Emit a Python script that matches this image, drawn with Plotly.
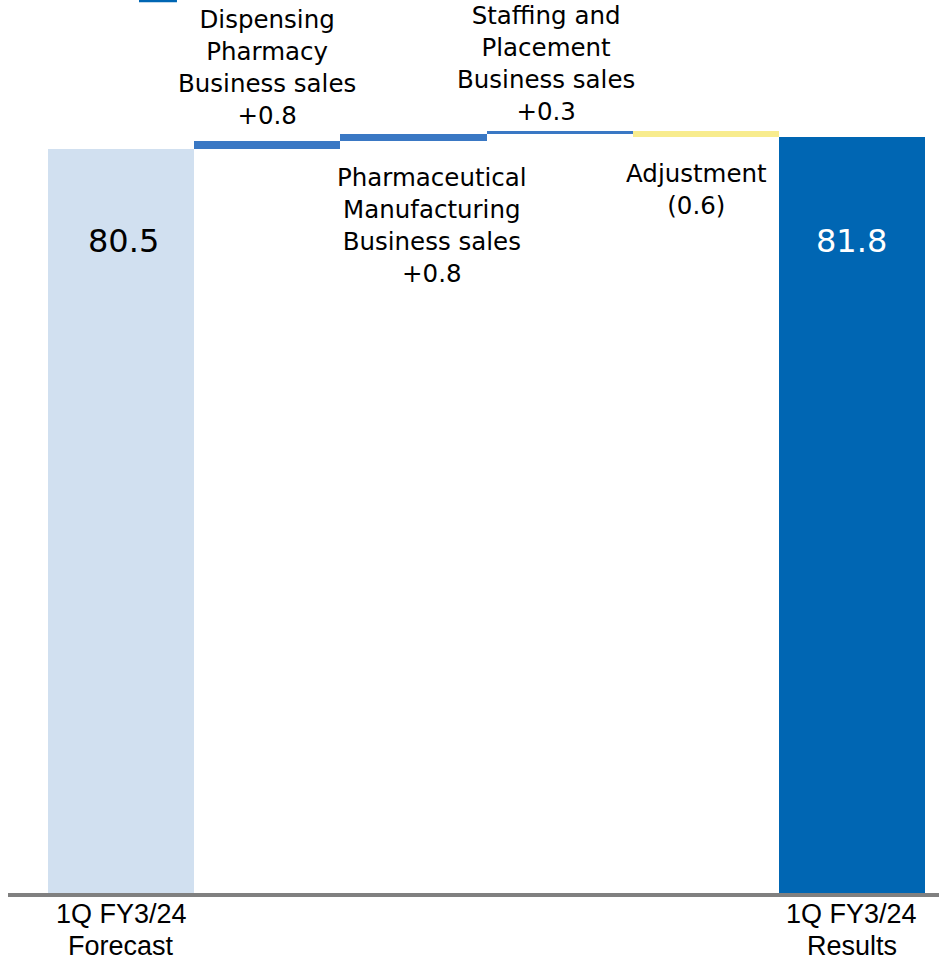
import plotly.graph_objects as go

# Data (100 million yen)
categories = ["1Q FY3/24<br>Forecast", "Dispensing", "Pharmaceutical", "Staffing", "Adjustment",
              "1Q FY3/24<br>Results"]
forecast = 80.5
changes = [0.8, 0.8, 0.3, -0.6]
results = 81.8
change_labels = [
    "Dispensing<br>Pharmacy<br>Business sales<br>+0.8",
    "Pharmaceutical<br>Manufacturing<br>Business sales<br>+0.8",
    "Staffing and<br>Placement<br>Business sales<br>+0.3",
    "Adjustment<br>(0.6)",
]

COLOURS = {
    'forecast': '#D1E0F0',
    'up': '#3A78C4',
    'down': '#F8EC8E',
    'results': '#0066B3',
    'axis': '#808080',
    'text': '#000000',
}

# floating bars for the waterfall
bases = [0]
heights = [forecast]
running = forecast
for c in changes:
    new = running + c
    bases.append(min(running, new))
    heights.append(abs(c))
    running = new
bases.append(0)
heights.append(results)

colors = [COLOURS['forecast']] + [COLOURS['up'] if c > 0 else COLOURS['down'] for c in changes] + [COLOURS['results']]
xs = list(range(len(categories)))

fig = go.Figure()
fig.add_trace(go.Bar(
    x=xs, y=heights, base=bases,
    marker=dict(color=colors, line=dict(width=0)),
    hoverinfo='skip',
    showlegend=False,
))

FONT = "DejaVu Sans"

# labels on the change bars
running = forecast
for i, (c, lab) in enumerate(zip(changes, change_labels)):
    top = max(running, running + c)
    bottom = min(running, running + c)
    above = i in (0, 2)
    fig.add_annotation(
        x=i + 1, y=top if above else bottom,
        xref='x', yref='y',
        text=lab, showarrow=False,
        xshift=[0, 19, -14, -9][i],
        yshift=[9, -20, 3, -20][i],
        yanchor='bottom' if above else 'top',
        font=dict(family=FONT, size=24.5, color=COLOURS['text']),
    )
    running += c

# values inside the end bars
fig.add_annotation(x=0, y=70.5, text=f"{forecast:.1f}", showarrow=False, xshift=2,
                   font=dict(family=FONT, size=32, color=COLOURS['text']))
fig.add_annotation(x=5, y=70.5, text=f"{results:.1f}", showarrow=False,
                   font=dict(family=FONT, size=32, color='#FFFFFF'))

# category labels under the axis (one line each, tighter spacing than ticks)
for xi in (0, len(categories) - 1):
    for k, line in enumerate(categories[xi].split("<br>")):
        fig.add_annotation(
            x=xi, y=0, xref='x', yref='paper',
            text=line, showarrow=False,
            yanchor='middle', yshift=-21 - 32 * k,
            font=dict(family="Liberation Sans", size=27, color=COLOURS['text']),
        )

fig.update_layout(
    width=939, height=962,
    margin=dict(l=8, r=0, t=0, b=69),
    paper_bgcolor='white', plot_bgcolor='white',
    bargap=0,
    shapes=[dict(type='rect', xref='paper', yref='paper',
                 x0=0.1407, x1=0.1815, y0=0.9975, y1=1.0,
                 fillcolor=COLOURS['results'], line=dict(width=0))],
)
fig.update_xaxes(
    range=[-0.774, 5.596],
    showticklabels=False,
    showline=True, linecolor=COLOURS['axis'], linewidth=4,
    showgrid=False, zeroline=False, ticks='', ticklen=0,
    automargin=False,
)
fig.update_yaxes(range=[0, 96.6], visible=False, showgrid=False, zeroline=False,
                 automargin=False)

fig.write_html("out.html", config={'displayModeBar': False},
               post_script="document.body.style.margin='0';")
